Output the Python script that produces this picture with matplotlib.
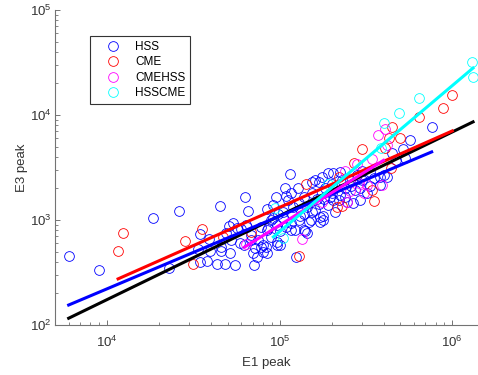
import matplotlib
matplotlib.use('Agg')
import matplotlib.pyplot as plt
import numpy as np

plt.rcParams['font.family'] = ['Liberation Sans', 'DejaVu Sans']
plt.rcParams['mathtext.fontset'] = 'custom'
plt.rcParams['mathtext.rm'] = 'Liberation Sans'

# HSS (blue)
hss_x = [6.0e3, 9.0e3, 1.85e4, 2.6e4, 4.5e4, 2.3e4, 3.45e4, 3.35e4, 3.45e4, 3.8e4,
         3.95e4, 4.35e4, 4.8e4, 4.55e4, 4.6e4, 5.15e4, 5.5e4, 5.1e4, 5.4e4, 4.9e4,
         5.7e4, 6.6e4, 8.5e4, 1.08e5, 1.15e5, 1.09e5, 6.0e4, 6.5e4, 6.2e4, 6.8e4,
         7.2e4, 7.4e4, 7.8e4, 8.3e4, 8.5e4, 9.7e4, 1.01e5, 7.1e4, 3.9e4, 7.5e4,
         8.9e4, 8.6e4, 7.8e4, 9.7e4, 1.04e5, 1.09e5, 9.2e4, 9.5e4, 1.27e5, 1.54e5,
         1.7e5, 1.77e5, 1.9e5, 2.05e5, 2.25e5, 2.3e5, 2.57e5, 2.8e5, 3.36e5, 3.83e5,
         3.36e5, 2.94e5, 3.2e5, 2.45e5, 1.97e5, 1.8e5, 1.7e5, 1.45e5, 1.2e5, 1.18e5,
         1.32e5, 1.54e5, 1.72e5, 1.51e5, 1.38e5, 1.45e5, 1.16e5, 1.01e5, 8.5e4, 9.7e4,
         8.0e4, 1.25e5, 1.16e5, 1.84e5, 1.61e5, 1.12e5, 1.38e5, 1.55e5, 1.65e5, 2.0e5,
         2.2e5, 2.4e5, 2.75e5, 2.65e5, 2.94e5, 3.83e5, 1.9e5, 2.1e5, 1.78e5, 1.6e5,
         1.3e5, 1.48e5, 1.78e5, 1.16e5, 7.6e5, 5.7e5, 4.5e5, 5.2e5, 5.3e5, 4.7e5,
         4.0e5, 4.2e5, 6.3e4, 6.35e4, 8.9e4, 9.2e4, 9.8e4, 5.9e4, 7.0e4, 8.0e4,
         1.41e5, 1.22e5, 1.72e5, 1.38e5, 2.05e5, 2.25e5, 2.6e5, 3.0e5, 1.3e5, 2.0e5,
         2.4e5, 1.05e5, 6.8e4, 5.2e4, 3.0e5, 3.5e5]
hss_y = [455, 335, 1045, 1220, 1360, 350, 735, 530, 400, 405,
         505, 380, 380, 555, 505, 485, 372, 875, 935, 750,
         835, 1220, 1270, 2000, 2750, 1700, 820, 860, 580, 650,
         540, 440, 550, 550, 490, 580, 580, 370, 660, 650,
         690, 840, 860, 900, 1040, 860, 1045, 1650, 2000, 2300,
         2300, 2580, 2800, 2800, 2850, 2400, 2400, 2700, 2850, 2580,
         2100, 2000, 1800, 1500, 1650, 1600, 1420, 1330, 1330, 1140,
         1100, 1200, 960, 1000, 800, 760, 800, 780, 800, 620,
         580, 445, 1800, 2000, 2400, 1550, 1650, 1800, 1600, 1800,
         1550, 1650, 1930, 1450, 1550, 2150, 1390, 1200, 1100, 1250,
         1000, 960, 1000, 930, 7700, 5800, 4300, 4700, 3900, 3700,
         2700, 2580, 1660, 900, 1000, 1400, 1130, 600, 490, 500,
         780, 800, 1070, 1130, 1550, 1730, 2100, 2400, 1450, 2200,
         2000, 1200, 720, 650, 2900, 2500]

# CME (red)
cme_x = [1.16e4, 1.24e4, 2.82e4, 3.14e4, 3.55e4, 4.7e4, 6.8e4, 1.42e5, 2.7e5, 3.0e5,
         3.5e5, 2.3e5, 3.45e5, 2.2e5, 1.3e5, 4.4e5, 1.0e6, 8.8e5, 6.4e5, 4.5e5,
         4.3e5, 5.0e5, 4.1e5, 2.15e5]
cme_y = [507, 752, 630, 381, 820, 690, 770, 2200, 3500, 4700,
         1520, 1370, 1950, 2550, 455, 3150, 15500, 11600, 9600, 7700,
         6000, 6000, 4800, 1330]

# CMEHSS (magenta)
cmehss_x = [3.7e5, 4.1e5, 4.2e5, 3.45e5, 2.8e5, 3.2e5, 3.1e5, 2.4e5, 2.45e5, 1.34e5,
            6.35e4, 1.75e5, 2.57e5, 3.9e5, 2.9e5]
cmehss_y = [6400, 7300, 5200, 3800, 3400, 2150, 1800, 2900, 1500, 660,
            590, 1500, 1900, 2150, 2250]

# HSSCME (cyan)
hsscme_x = [1.3e6, 1.32e6, 6.4e5, 4.9e5, 4.0e5, 3.85e5, 9.4e4, 1.04e5, 1.9e5]
hsscme_y = [32000, 23000, 14500, 10400, 8400, 4800, 1300, 670, 2200]

# fit lines (end points)
all_fit_x = [6.0e3, 1.32e6]
all_fit_y = [116, 8600]
hss_fit_x = [6.0e3, 7.6e5]
hss_fit_y = [155, 4450]
cme_fit_x = [1.16e4, 1.0e6]
cme_fit_y = [275, 7050]
cmehss_fit_x = [6.3e4, 4.0e5]
cmehss_fit_y = [555, 3700]
hsscme_fit_x = [9.2e4, 1.32e6]
hsscme_fit_y = [690, 28000]

# matlab style colours
c_b = '#0000ff'
c_r = '#ff0000'
c_m = '#ff00ff'
c_c = '#00ffff'

fig = plt.figure(figsize=(4.78, 3.75), dpi=100)
ax = fig.add_axes([55 / 478, 50 / 375, 423 / 478, 315 / 375])

ms = 7
mew = 0.6
ax.plot(hss_x, hss_y, 'o', mfc='none', mec=c_b, ms=ms, mew=mew, label='HSS')
ax.plot(cme_x, cme_y, 'o', mfc='none', mec=c_r, ms=ms, mew=mew, label='CME')
ax.plot(cmehss_x, cmehss_y, 'o', mfc='none', mec=c_m, ms=ms, mew=mew, label='CMEHSS')
ax.plot(hsscme_x, hsscme_y, 'o', mfc='none', mec=c_c, ms=ms, mew=mew, label='HSSCME')

lw = 2.2
ax.plot(all_fit_x, all_fit_y, '-', color='k', lw=lw)
ax.plot(hss_fit_x, hss_fit_y, '-', color=c_b, lw=lw)
ax.plot(cme_fit_x, cme_fit_y, '-', color=c_r, lw=lw)
ax.plot(cmehss_fit_x, cmehss_fit_y, '-', color=c_m, lw=lw)
ax.plot(hsscme_fit_x, hsscme_fit_y, '-', color=c_c, lw=lw)

ax.set_xscale('log')
ax.set_yscale('log')
ax.set_xlim(5e3, 1.41e6)
ax.set_ylim(1e2, 1e5)

ax.spines['top'].set_visible(False)
ax.spines['right'].set_visible(False)
for s in ['left', 'bottom']:
    ax.spines[s].set_color('0.45')
    ax.spines[s].set_linewidth(0.8)

ax.tick_params(which='both', direction='in', colors='0.45', labelcolor='0.2')
ax.tick_params(which='major', length=3.5, width=0.7, labelsize=9.5)
ax.tick_params(which='minor', length=2, width=0.6)
ax.tick_params(axis='x', which='major', pad=7)
ax.tick_params(axis='y', which='major', pad=2.5)

ax.set_xlabel('E1 peak', fontsize=9.5, color='0.2', labelpad=5)
ax.set_ylabel('E3 peak', fontsize=9.5, color='0.2', labelpad=1)

leg = ax.legend(loc='upper left', bbox_to_anchor=(0.083, 0.917), borderaxespad=0,
                fontsize=8.5, numpoints=1, handlelength=3.1, handletextpad=0.3,
                labelspacing=0.3, borderpad=0.4, fancybox=False, framealpha=1)
leg.get_frame().set_edgecolor('0.2')
leg.get_frame().set_linewidth(0.8)

fig.savefig('out.png', dpi=100)
